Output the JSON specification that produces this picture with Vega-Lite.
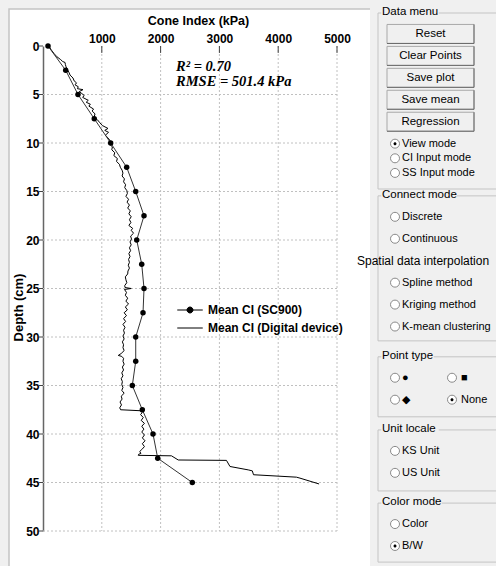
{
  "$schema": "https://vega.github.io/schema/vega-lite/v6.json",
  "width": 294,
  "height": 485,
  "autosize": "none",
  "padding": {"left": 43, "top": 46, "right": 159, "bottom": 35},
  "background": "white",
  "config": {"view": {"stroke": null}, "font": "Liberation Sans"},
  "datasets": {
    "ci": [
      {"series": "Mean CI (SC900)", "depth": 0, "ci": 85},
      {"series": "Mean CI (SC900)", "depth": 2.5, "ci": 386},
      {"series": "Mean CI (SC900)", "depth": 5, "ci": 595},
      {"series": "Mean CI (SC900)", "depth": 7.5, "ci": 872},
      {"series": "Mean CI (SC900)", "depth": 10, "ci": 1151},
      {"series": "Mean CI (SC900)", "depth": 12.5, "ci": 1423},
      {"series": "Mean CI (SC900)", "depth": 15, "ci": 1577},
      {"series": "Mean CI (SC900)", "depth": 17.5, "ci": 1718},
      {"series": "Mean CI (SC900)", "depth": 20, "ci": 1594},
      {"series": "Mean CI (SC900)", "depth": 22.5, "ci": 1679},
      {"series": "Mean CI (SC900)", "depth": 25, "ci": 1718},
      {"series": "Mean CI (SC900)", "depth": 27.5, "ci": 1701},
      {"series": "Mean CI (SC900)", "depth": 30, "ci": 1577},
      {"series": "Mean CI (SC900)", "depth": 32.5, "ci": 1577},
      {"series": "Mean CI (SC900)", "depth": 35, "ci": 1519},
      {"series": "Mean CI (SC900)", "depth": 37.5, "ci": 1689},
      {"series": "Mean CI (SC900)", "depth": 40, "ci": 1871},
      {"series": "Mean CI (SC900)", "depth": 42.5, "ci": 1951},
      {"series": "Mean CI (SC900)", "depth": 45, "ci": 2539},
      {"series": "Mean CI (Digital device)", "depth": 0.0, "ci": 100},
      {"series": "Mean CI (Digital device)", "depth": 0.4, "ci": 140},
      {"series": "Mean CI (Digital device)", "depth": 0.8, "ci": 190},
      {"series": "Mean CI (Digital device)", "depth": 1.1, "ci": 235},
      {"series": "Mean CI (Digital device)", "depth": 1.4, "ci": 300},
      {"series": "Mean CI (Digital device)", "depth": 1.6, "ci": 335},
      {"series": "Mean CI (Digital device)", "depth": 1.7, "ci": 375},
      {"series": "Mean CI (Digital device)", "depth": 1.9, "ci": 380},
      {"series": "Mean CI (Digital device)", "depth": 2.1, "ci": 390},
      {"series": "Mean CI (Digital device)", "depth": 2.4, "ci": 410},
      {"series": "Mean CI (Digital device)", "depth": 2.7, "ci": 440},
      {"series": "Mean CI (Digital device)", "depth": 3.0, "ci": 460},
      {"series": "Mean CI (Digital device)", "depth": 3.3, "ci": 510},
      {"series": "Mean CI (Digital device)", "depth": 3.6, "ci": 530},
      {"series": "Mean CI (Digital device)", "depth": 3.8, "ci": 570},
      {"series": "Mean CI (Digital device)", "depth": 4.0, "ci": 545},
      {"series": "Mean CI (Digital device)", "depth": 4.2, "ci": 600},
      {"series": "Mean CI (Digital device)", "depth": 4.4, "ci": 585},
      {"series": "Mean CI (Digital device)", "depth": 4.5, "ci": 680},
      {"series": "Mean CI (Digital device)", "depth": 4.7, "ci": 615},
      {"series": "Mean CI (Digital device)", "depth": 4.9, "ci": 660},
      {"series": "Mean CI (Digital device)", "depth": 5.1, "ci": 700},
      {"series": "Mean CI (Digital device)", "depth": 5.3, "ci": 675},
      {"series": "Mean CI (Digital device)", "depth": 5.6, "ci": 770},
      {"series": "Mean CI (Digital device)", "depth": 5.8, "ci": 735},
      {"series": "Mean CI (Digital device)", "depth": 6.0, "ci": 805},
      {"series": "Mean CI (Digital device)", "depth": 6.2, "ci": 780},
      {"series": "Mean CI (Digital device)", "depth": 6.5, "ci": 860},
      {"series": "Mean CI (Digital device)", "depth": 6.7, "ci": 835},
      {"series": "Mean CI (Digital device)", "depth": 7.0, "ci": 885},
      {"series": "Mean CI (Digital device)", "depth": 7.3, "ci": 870},
      {"series": "Mean CI (Digital device)", "depth": 7.6, "ci": 925},
      {"series": "Mean CI (Digital device)", "depth": 7.9, "ci": 965},
      {"series": "Mean CI (Digital device)", "depth": 8.2, "ci": 1010},
      {"series": "Mean CI (Digital device)", "depth": 8.5, "ci": 1105},
      {"series": "Mean CI (Digital device)", "depth": 8.7, "ci": 1050},
      {"series": "Mean CI (Digital device)", "depth": 8.9, "ci": 1115},
      {"series": "Mean CI (Digital device)", "depth": 9.2, "ci": 1060},
      {"series": "Mean CI (Digital device)", "depth": 9.5, "ci": 1110},
      {"series": "Mean CI (Digital device)", "depth": 9.8, "ci": 1145},
      {"series": "Mean CI (Digital device)", "depth": 10.1, "ci": 1130},
      {"series": "Mean CI (Digital device)", "depth": 10.4, "ci": 1180},
      {"series": "Mean CI (Digital device)", "depth": 10.7, "ci": 1170},
      {"series": "Mean CI (Digital device)", "depth": 11.0, "ci": 1220},
      {"series": "Mean CI (Digital device)", "depth": 11.3, "ci": 1205},
      {"series": "Mean CI (Digital device)", "depth": 11.6, "ci": 1265},
      {"series": "Mean CI (Digital device)", "depth": 11.9, "ci": 1250},
      {"series": "Mean CI (Digital device)", "depth": 12.2, "ci": 1300},
      {"series": "Mean CI (Digital device)", "depth": 12.5, "ci": 1315},
      {"series": "Mean CI (Digital device)", "depth": 12.8, "ci": 1345},
      {"series": "Mean CI (Digital device)", "depth": 13.1, "ci": 1360},
      {"series": "Mean CI (Digital device)", "depth": 13.4, "ci": 1345},
      {"series": "Mean CI (Digital device)", "depth": 13.7, "ci": 1385},
      {"series": "Mean CI (Digital device)", "depth": 14.0, "ci": 1370},
      {"series": "Mean CI (Digital device)", "depth": 14.3, "ci": 1405},
      {"series": "Mean CI (Digital device)", "depth": 14.6, "ci": 1390},
      {"series": "Mean CI (Digital device)", "depth": 14.9, "ci": 1425},
      {"series": "Mean CI (Digital device)", "depth": 15.2, "ci": 1435},
      {"series": "Mean CI (Digital device)", "depth": 15.5, "ci": 1410},
      {"series": "Mean CI (Digital device)", "depth": 15.8, "ci": 1455},
      {"series": "Mean CI (Digital device)", "depth": 16.1, "ci": 1430},
      {"series": "Mean CI (Digital device)", "depth": 16.4, "ci": 1470},
      {"series": "Mean CI (Digital device)", "depth": 16.7, "ci": 1440},
      {"series": "Mean CI (Digital device)", "depth": 17.0, "ci": 1485},
      {"series": "Mean CI (Digital device)", "depth": 17.3, "ci": 1460},
      {"series": "Mean CI (Digital device)", "depth": 17.6, "ci": 1500},
      {"series": "Mean CI (Digital device)", "depth": 17.9, "ci": 1470},
      {"series": "Mean CI (Digital device)", "depth": 18.2, "ci": 1495},
      {"series": "Mean CI (Digital device)", "depth": 18.5, "ci": 1460},
      {"series": "Mean CI (Digital device)", "depth": 18.8, "ci": 1525},
      {"series": "Mean CI (Digital device)", "depth": 19.0, "ci": 1500},
      {"series": "Mean CI (Digital device)", "depth": 19.3, "ci": 1540},
      {"series": "Mean CI (Digital device)", "depth": 19.6, "ci": 1490},
      {"series": "Mean CI (Digital device)", "depth": 19.9, "ci": 1505},
      {"series": "Mean CI (Digital device)", "depth": 20.2, "ci": 1480},
      {"series": "Mean CI (Digital device)", "depth": 20.5, "ci": 1500},
      {"series": "Mean CI (Digital device)", "depth": 20.8, "ci": 1470},
      {"series": "Mean CI (Digital device)", "depth": 21.1, "ci": 1490},
      {"series": "Mean CI (Digital device)", "depth": 21.4, "ci": 1460},
      {"series": "Mean CI (Digital device)", "depth": 21.7, "ci": 1480},
      {"series": "Mean CI (Digital device)", "depth": 22.0, "ci": 1455},
      {"series": "Mean CI (Digital device)", "depth": 22.3, "ci": 1470},
      {"series": "Mean CI (Digital device)", "depth": 22.6, "ci": 1450},
      {"series": "Mean CI (Digital device)", "depth": 22.9, "ci": 1470},
      {"series": "Mean CI (Digital device)", "depth": 23.2, "ci": 1445},
      {"series": "Mean CI (Digital device)", "depth": 23.5, "ci": 1440},
      {"series": "Mean CI (Digital device)", "depth": 23.8, "ci": 1400},
      {"series": "Mean CI (Digital device)", "depth": 24.1, "ci": 1410},
      {"series": "Mean CI (Digital device)", "depth": 24.4, "ci": 1425},
      {"series": "Mean CI (Digital device)", "depth": 24.7, "ci": 1390},
      {"series": "Mean CI (Digital device)", "depth": 24.9, "ci": 1395},
      {"series": "Mean CI (Digital device)", "depth": 25.0, "ci": 1500},
      {"series": "Mean CI (Digital device)", "depth": 25.1, "ci": 1385},
      {"series": "Mean CI (Digital device)", "depth": 25.4, "ci": 1420},
      {"series": "Mean CI (Digital device)", "depth": 25.7, "ci": 1400},
      {"series": "Mean CI (Digital device)", "depth": 26.0, "ci": 1440},
      {"series": "Mean CI (Digital device)", "depth": 26.3, "ci": 1410},
      {"series": "Mean CI (Digital device)", "depth": 26.6, "ci": 1455},
      {"series": "Mean CI (Digital device)", "depth": 26.9, "ci": 1400},
      {"series": "Mean CI (Digital device)", "depth": 27.2, "ci": 1435},
      {"series": "Mean CI (Digital device)", "depth": 27.5, "ci": 1380},
      {"series": "Mean CI (Digital device)", "depth": 27.8, "ci": 1420},
      {"series": "Mean CI (Digital device)", "depth": 28.1, "ci": 1370},
      {"series": "Mean CI (Digital device)", "depth": 28.4, "ci": 1405},
      {"series": "Mean CI (Digital device)", "depth": 28.7, "ci": 1360},
      {"series": "Mean CI (Digital device)", "depth": 29.0, "ci": 1395},
      {"series": "Mean CI (Digital device)", "depth": 29.3, "ci": 1370},
      {"series": "Mean CI (Digital device)", "depth": 29.6, "ci": 1385},
      {"series": "Mean CI (Digital device)", "depth": 29.9, "ci": 1360},
      {"series": "Mean CI (Digital device)", "depth": 30.2, "ci": 1380},
      {"series": "Mean CI (Digital device)", "depth": 30.5, "ci": 1350},
      {"series": "Mean CI (Digital device)", "depth": 30.8, "ci": 1370},
      {"series": "Mean CI (Digital device)", "depth": 31.1, "ci": 1360},
      {"series": "Mean CI (Digital device)", "depth": 31.4, "ci": 1380},
      {"series": "Mean CI (Digital device)", "depth": 31.7, "ci": 1330},
      {"series": "Mean CI (Digital device)", "depth": 31.9, "ci": 1280},
      {"series": "Mean CI (Digital device)", "depth": 32.0, "ci": 1340},
      {"series": "Mean CI (Digital device)", "depth": 32.2, "ci": 1370},
      {"series": "Mean CI (Digital device)", "depth": 32.5, "ci": 1360},
      {"series": "Mean CI (Digital device)", "depth": 32.8, "ci": 1380},
      {"series": "Mean CI (Digital device)", "depth": 33.1, "ci": 1350},
      {"series": "Mean CI (Digital device)", "depth": 33.4, "ci": 1370},
      {"series": "Mean CI (Digital device)", "depth": 33.7, "ci": 1340},
      {"series": "Mean CI (Digital device)", "depth": 34.0, "ci": 1360},
      {"series": "Mean CI (Digital device)", "depth": 34.3, "ci": 1330},
      {"series": "Mean CI (Digital device)", "depth": 34.6, "ci": 1350},
      {"series": "Mean CI (Digital device)", "depth": 34.9, "ci": 1340},
      {"series": "Mean CI (Digital device)", "depth": 35.2, "ci": 1360},
      {"series": "Mean CI (Digital device)", "depth": 35.5, "ci": 1340},
      {"series": "Mean CI (Digital device)", "depth": 35.8, "ci": 1380},
      {"series": "Mean CI (Digital device)", "depth": 36.1, "ci": 1330},
      {"series": "Mean CI (Digital device)", "depth": 36.4, "ci": 1345},
      {"series": "Mean CI (Digital device)", "depth": 36.7, "ci": 1310},
      {"series": "Mean CI (Digital device)", "depth": 37.0, "ci": 1335},
      {"series": "Mean CI (Digital device)", "depth": 37.3, "ci": 1305},
      {"series": "Mean CI (Digital device)", "depth": 37.5, "ci": 1320},
      {"series": "Mean CI (Digital device)", "depth": 37.6, "ci": 1655},
      {"series": "Mean CI (Digital device)", "depth": 37.8, "ci": 1685},
      {"series": "Mean CI (Digital device)", "depth": 38.0, "ci": 1660},
      {"series": "Mean CI (Digital device)", "depth": 38.3, "ci": 1705},
      {"series": "Mean CI (Digital device)", "depth": 38.6, "ci": 1670},
      {"series": "Mean CI (Digital device)", "depth": 38.9, "ci": 1725},
      {"series": "Mean CI (Digital device)", "depth": 39.2, "ci": 1680},
      {"series": "Mean CI (Digital device)", "depth": 39.5, "ci": 1715},
      {"series": "Mean CI (Digital device)", "depth": 39.8, "ci": 1680},
      {"series": "Mean CI (Digital device)", "depth": 40.1, "ci": 1725},
      {"series": "Mean CI (Digital device)", "depth": 40.4, "ci": 1690},
      {"series": "Mean CI (Digital device)", "depth": 40.7, "ci": 1735},
      {"series": "Mean CI (Digital device)", "depth": 41.0, "ci": 1690},
      {"series": "Mean CI (Digital device)", "depth": 41.3, "ci": 1725},
      {"series": "Mean CI (Digital device)", "depth": 41.6, "ci": 1680},
      {"series": "Mean CI (Digital device)", "depth": 41.8, "ci": 1645},
      {"series": "Mean CI (Digital device)", "depth": 42.0, "ci": 1665},
      {"series": "Mean CI (Digital device)", "depth": 42.1, "ci": 1625},
      {"series": "Mean CI (Digital device)", "depth": 42.2, "ci": 1620},
      {"series": "Mean CI (Digital device)", "depth": 42.25, "ci": 2185},
      {"series": "Mean CI (Digital device)", "depth": 42.68, "ci": 2300},
      {"series": "Mean CI (Digital device)", "depth": 42.72, "ci": 3120},
      {"series": "Mean CI (Digital device)", "depth": 43.35, "ci": 3180},
      {"series": "Mean CI (Digital device)", "depth": 43.7, "ci": 3490},
      {"series": "Mean CI (Digital device)", "depth": 43.8, "ci": 3560},
      {"series": "Mean CI (Digital device)", "depth": 44.2, "ci": 3580},
      {"series": "Mean CI (Digital device)", "depth": 44.45, "ci": 4310},
      {"series": "Mean CI (Digital device)", "depth": 44.55, "ci": 4370},
      {"series": "Mean CI (Digital device)", "depth": 45.15, "ci": 4695}
    ],
    "grid": [
      {"g": "v1000", "ci": 1000, "depth": 0}, {"g": "v1000", "ci": 1000, "depth": 50},
      {"g": "v2000", "ci": 2000, "depth": 0}, {"g": "v2000", "ci": 2000, "depth": 50},
      {"g": "v3000", "ci": 3000, "depth": 0}, {"g": "v3000", "ci": 3000, "depth": 50},
      {"g": "v4000", "ci": 4000, "depth": 0}, {"g": "v4000", "ci": 4000, "depth": 50},
      {"g": "v5000", "ci": 5000, "depth": 0}, {"g": "v5000", "ci": 5000, "depth": 50},
      {"g": "h5", "ci": 0, "depth": 5}, {"g": "h5", "ci": 5000, "depth": 5},
      {"g": "h10", "ci": 0, "depth": 10}, {"g": "h10", "ci": 5000, "depth": 10},
      {"g": "h15", "ci": 0, "depth": 15}, {"g": "h15", "ci": 5000, "depth": 15},
      {"g": "h20", "ci": 0, "depth": 20}, {"g": "h20", "ci": 5000, "depth": 20},
      {"g": "h25", "ci": 0, "depth": 25}, {"g": "h25", "ci": 5000, "depth": 25},
      {"g": "h30", "ci": 0, "depth": 30}, {"g": "h30", "ci": 5000, "depth": 30},
      {"g": "h35", "ci": 0, "depth": 35}, {"g": "h35", "ci": 5000, "depth": 35},
      {"g": "h40", "ci": 0, "depth": 40}, {"g": "h40", "ci": 5000, "depth": 40},
      {"g": "h45", "ci": 0, "depth": 45}, {"g": "h45", "ci": 5000, "depth": 45},
      {"g": "h50", "ci": 0, "depth": 50}, {"g": "h50", "ci": 5000, "depth": 50}
    ],
    "ticks": [
      {"g": "tx1000", "ci": 1000, "depth": 0}, {"g": "tx1000", "ci": 1000, "depth": 0.72},
      {"g": "tx2000", "ci": 2000, "depth": 0}, {"g": "tx2000", "ci": 2000, "depth": 0.72},
      {"g": "tx3000", "ci": 3000, "depth": 0}, {"g": "tx3000", "ci": 3000, "depth": 0.72},
      {"g": "tx4000", "ci": 4000, "depth": 0}, {"g": "tx4000", "ci": 4000, "depth": 0.72},
      {"g": "tx5000", "ci": 5000, "depth": 0}, {"g": "tx5000", "ci": 5000, "depth": 0.72},
      {"g": "ty0", "ci": -70, "depth": 0}, {"g": "ty0", "ci": 0, "depth": 0},
      {"g": "ty5", "ci": -70, "depth": 5}, {"g": "ty5", "ci": 0, "depth": 5},
      {"g": "ty10", "ci": -70, "depth": 10}, {"g": "ty10", "ci": 0, "depth": 10},
      {"g": "ty15", "ci": -70, "depth": 15}, {"g": "ty15", "ci": 0, "depth": 15},
      {"g": "ty20", "ci": -70, "depth": 20}, {"g": "ty20", "ci": 0, "depth": 20},
      {"g": "ty25", "ci": -70, "depth": 25}, {"g": "ty25", "ci": 0, "depth": 25},
      {"g": "ty30", "ci": -70, "depth": 30}, {"g": "ty30", "ci": 0, "depth": 30},
      {"g": "ty35", "ci": -70, "depth": 35}, {"g": "ty35", "ci": 0, "depth": 35},
      {"g": "ty40", "ci": -70, "depth": 40}, {"g": "ty40", "ci": 0, "depth": 40},
      {"g": "ty45", "ci": -70, "depth": 45}, {"g": "ty45", "ci": 0, "depth": 45},
      {"g": "ty50", "ci": -70, "depth": 50}, {"g": "ty50", "ci": 0, "depth": 50}
    ],
    "notes": [
      {"note": "R² = 0.70", "ci": 2262, "depth": 2.6},
      {"note": "RMSE = 501.4 kPa", "ci": 2262, "depth": 4.1}
    ],
    "panel": [
      {"line": "Data menu", "kind": "header", "text": "Data menu", "on": false},
      {"line": "Reset", "kind": "button", "text": "Reset", "on": false},
      {"line": "Clear Points", "kind": "button", "text": "Clear Points", "on": false},
      {"line": "Save plot", "kind": "button", "text": "Save plot", "on": false},
      {"line": "Save mean", "kind": "button", "text": "Save mean", "on": false},
      {"line": "Regression", "kind": "button", "text": "Regression", "on": false},
      {"line": "View mode", "kind": "option", "text": "View mode", "on": true},
      {"line": "CI Input mode", "kind": "option", "text": "CI Input mode", "on": false},
      {"line": "SS Input mode", "kind": "option", "text": "SS Input mode", "on": false},
      {"line": "Connect mode", "kind": "header", "text": "Connect mode", "on": false},
      {"line": "Discrete", "kind": "option", "text": "Discrete", "on": false},
      {"line": "Continuous", "kind": "option", "text": "Continuous", "on": false},
      {"line": "Spatial data interpolation", "kind": "note", "text": "Spatial data interpolation", "on": false},
      {"line": "Spline method", "kind": "option", "text": "Spline method", "on": false},
      {"line": "Kriging method", "kind": "option", "text": "Kriging method", "on": false},
      {"line": "K-mean clustering", "kind": "option", "text": "K-mean clustering", "on": false},
      {"line": "Point type", "kind": "header", "text": "Point type", "on": false},
      {"line": "pt1", "kind": "option", "text": "●", "on": false},
      {"line": "pt1", "kind": "option2", "text": "■", "on": false},
      {"line": "pt2", "kind": "option", "text": "◆", "on": false},
      {"line": "pt2", "kind": "option2", "text": "None", "on": true},
      {"line": "Unit locale", "kind": "header", "text": "Unit locale", "on": false},
      {"line": "KS Unit", "kind": "option", "text": "KS Unit", "on": false},
      {"line": "US Unit", "kind": "option", "text": "US Unit", "on": false},
      {"line": "Color mode", "kind": "header", "text": "Color mode", "on": false},
      {"line": "Color", "kind": "option", "text": "Color", "on": false},
      {"line": "B/W", "kind": "option", "text": "B/W", "on": true}
    ],
    "frames": [
      {"frame": "window", "line": "Data menu", "kind": "header"},
      {"frame": "Data menu", "line": "Data menu", "kind": "header"},
      {"frame": "Connect mode", "line": "Connect mode", "kind": "header"},
      {"frame": "Point type", "line": "Point type", "kind": "header"},
      {"frame": "Unit locale", "line": "Unit locale", "kind": "header"},
      {"frame": "Color mode", "line": "Color mode", "kind": "header"}
    ]
  },
  "resolve": {"scale": {"x": "independent", "y": "independent", "shape": "independent"}},
  "layer": [
    {
      "encoding": {
        "x": {"field": "kind", "type": "nominal", "axis": null,
          "scale": {"type": "point", "domain": ["note", "header", "option", "button", "option2"], "range": [314, 409], "padding": 0}},
        "y": {"field": "line", "type": "nominal", "axis": null,
          "scale": {"type": "band", "paddingInner": 0, "paddingOuter": 0, "range": [-37.66, 503.65],
            "domain": ["Data menu", "g01", "g02", "Reset", "g03", "g04", "Clear Points", "g05", "g06", "Save plot", "g07", "g08", "Save mean", "g09", "g10", "Regression", "g11", "g12", "View mode", "g13", "CI Input mode", "g14", "SS Input mode", "g15", "g16", "Connect mode", "g17", "g18", "Discrete", "g19", "g20", "Continuous", "g21", "g22", "Spatial data interpolation", "g23", "g24", "Spline method", "g25", "g26", "Kriging method", "g27", "g28", "K-mean clustering", "g29", "g30", "g31", "Point type", "g32", "g33", "pt1", "g34", "g35", "pt2", "g36", "g37", "g38", "Unit locale", "g39", "g40", "KS Unit", "g41", "g42", "US Unit", "g43", "g44", "g45", "Color mode", "g46", "g47", "Color", "g48", "g49", "B/W"]}}
      },
      "resolve": {"scale": {"shape": "independent"}},
      "layer": [
        {
          "data": {"name": "frames"},
          "transform": [{"filter": "datum.frame === 'window'"}],
          "mark": {"type": "point", "size": 4, "opacity": 1, "filled": true, "fill": "#f0f0f0", "strokeWidth": 0,
            "shape": "M-380.75,-12H115.25V554H-10.75V-3H-371.75V554H-380.75Z"}
        },
        {
          "data": {"name": "frames"},
          "transform": [{"filter": "datum.frame === 'window'"}],
          "mark": {"type": "point", "size": 4, "opacity": 1, "filled": false, "fill": "transparent", "stroke": "#c4c4c4", "strokeWidth": 1.5,
            "shape": "M-10.75,-3H-371.75V560"}
        },
        {
          "data": {"name": "frames"},
          "transform": [{"filter": "datum.frame !== 'window'"}],
          "mark": {"type": "point", "size": 4, "opacity": 1, "filled": false, "fill": "transparent", "stroke": "#c4c4c4", "strokeWidth": 1},
          "encoding": {
            "shape": {"field": "frame", "type": "nominal", "legend": null,
              "scale": {"domain": ["Data menu", "Connect mode", "Point type", "Unit locale", "Color mode"],
                "range": ["M0.5,1H-2.75V177H120M58,1H120", "M0.5,1H-2.75V146H120M76,1H120", "M0.5,1H-2.75V61H120M53,1H120", "M0.5,1H-2.75V62H120M58,1H120", "M0.5,1H-2.75V60H120M61,1H120"]}}
          }
        },
        {
          "data": {"name": "panel"},
          "transform": [{"filter": "datum.kind === 'button'"}],
          "mark": {"type": "point", "size": 4, "opacity": 1, "filled": true, "fill": "#f0f0f0", "stroke": "#a8a8a8", "strokeWidth": 1,
            "shape": "M-41.25,-9.5H45.75V9.5H-41.25Z"}
        },
        {
          "data": {"name": "panel"},
          "transform": [{"filter": "datum.kind === 'button'"}],
          "mark": {"type": "point", "size": 4, "opacity": 1, "filled": false, "fill": "transparent", "stroke": "#6a6a6a", "strokeWidth": 1,
            "shape": "M-41.25,9.5H45.75V-9.5"}
        },
        {
          "data": {"name": "panel"},
          "transform": [{"filter": "datum.kind === 'button'"}],
          "mark": {"type": "text", "align": "center", "baseline": "middle", "dx": 2.25, "fontSize": 11.5, "color": "#000"},
          "encoding": {"text": {"field": "text"}}
        },
        {
          "data": {"name": "panel"},
          "transform": [{"filter": "datum.kind === 'header'"}],
          "mark": {"type": "text", "align": "left", "baseline": "middle", "dx": 1.25, "fontSize": 11.5, "color": "#000"},
          "encoding": {"text": {"field": "text"}}
        },
        {
          "data": {"name": "panel"},
          "transform": [{"filter": "datum.kind === 'note'"}],
          "mark": {"type": "text", "align": "left", "baseline": "middle", "dx": 0, "fontSize": 12, "color": "#000"},
          "encoding": {"text": {"field": "text"}}
        },
        {
          "data": {"name": "panel"},
          "transform": [{"filter": "datum.kind === 'option' || datum.kind === 'option2'"}],
          "mark": {"type": "point", "size": 4, "opacity": 1, "filled": true, "fill": "white", "stroke": "#8a8a8a", "strokeWidth": 1},
          "encoding": {
            "shape": {"field": "kind", "type": "nominal", "legend": null,
              "scale": {"domain": ["option", "option2"], "range": ["M-5,0A4.5,4.5,0,1,1,-14,0A4.5,4.5,0,1,1,-5,0Z", "M4.5,0A4.5,4.5,0,1,1,-4.5,0A4.5,4.5,0,1,1,4.5,0Z"]}}
          }
        },
        {
          "data": {"name": "panel"},
          "transform": [{"filter": "datum.on"}],
          "mark": {"type": "point", "size": 4, "opacity": 1, "filled": true, "fill": "#000", "strokeWidth": 0},
          "encoding": {
            "shape": {"field": "kind", "type": "nominal", "legend": null,
              "scale": {"domain": ["option", "option2"], "range": ["M-8,0A1.5,1.5,0,1,1,-11,0A1.5,1.5,0,1,1,-8,0Z", "M1.5,0A1.5,1.5,0,1,1,-1.5,0A1.5,1.5,0,1,1,1.5,0Z"]}}
          }
        },
        {
          "data": {"name": "panel"},
          "transform": [{"filter": "datum.kind === 'option'"}],
          "mark": {"type": "text", "align": "left", "baseline": "middle", "dx": -2.5, "fontSize": 11, "color": "#000"},
          "encoding": {"text": {"field": "text"}}
        },
        {
          "data": {"name": "panel"},
          "transform": [{"filter": "datum.kind === 'option2'"}],
          "mark": {"type": "text", "align": "left", "baseline": "middle", "dx": 9, "fontSize": 11, "color": "#000"},
          "encoding": {"text": {"field": "text"}}
        }
      ]
    },
    {
      "encoding": {
        "x": {"field": "ci", "type": "quantitative",
          "scale": {"domain": [0, 5000], "nice": false, "zero": true},
          "axis": {"orient": "top", "title": "Cone Index (kPa)", "values": [1000, 2000, 3000, 4000, 5000], "format": "d",
            "domain": false, "ticks": false, "labelPadding": 1,
            "labelFontSize": 12, "labelFontWeight": "bold", "labelColor": "#000", "labelFlush": false, "labelOverlap": false,
            "titleFontSize": 12.5, "titleFontWeight": "bold", "titleColor": "#000", "titleX": 155, "titleY": -22,
            "titleBaseline": "alphabetic", "titleAlign": "center", "grid": false}},
        "y": {"field": "depth", "type": "quantitative",
          "scale": {"domain": [0, 50], "nice": false, "reverse": true},
          "axis": {"title": "Depth (cm)", "values": [0, 5, 10, 15, 20, 25, 30, 35, 40, 45, 50],
            "domainColor": "#666", "domainWidth": 1.5, "ticks": false, "labelPadding": 4,
            "labelFontSize": 12, "labelFontWeight": "bold", "labelColor": "#000", "labelFlush": false, "labelOverlap": false,
            "titleFontSize": 13, "titleFontWeight": "bold", "titleColor": "#000", "titleX": -25, "titleY": 261,
            "titleBaseline": "middle", "titleAlign": "center", "titleAngle": -90, "grid": false}}
      },
      "layer": [
        {
          "data": {"name": "grid"},
          "mark": {"type": "line", "color": "#c0c0c0", "strokeWidth": 1, "strokeDash": [2, 2]},
          "encoding": {"detail": {"field": "g", "type": "nominal"}}
        },
        {
          "data": {"name": "ticks"},
          "mark": {"type": "line", "color": "#444", "strokeWidth": 1},
          "encoding": {"detail": {"field": "g", "type": "nominal"}}
        },
        {
          "data": {"name": "ci"},
          "transform": [{"filter": "datum.series === 'Mean CI (Digital device)'"}],
          "mark": {"type": "line", "color": "#000", "strokeWidth": 1},
          "encoding": {"order": {"field": "depth", "type": "quantitative"}}
        },
        {
          "data": {"name": "ci"},
          "transform": [{"filter": "datum.series === 'Mean CI (SC900)'"}],
          "mark": {"type": "line", "color": "#333", "strokeWidth": 1},
          "encoding": {"order": {"field": "depth", "type": "quantitative"}}
        },
        {
          "data": {"name": "ci"},
          "transform": [{"filter": "datum.series === 'Mean CI (SC900)'"}],
          "mark": {"type": "point", "shape": "circle", "filled": true, "color": "#000", "size": 30, "opacity": 1}
        },
        {
          "data": {"name": "ci"},
          "mark": {"type": "point", "filled": false, "color": "#000", "fill": "#000", "stroke": "#000", "strokeWidth": 1, "size": 289, "opacity": 0},
          "encoding": {
            "shape": {"field": "series", "type": "nominal",
              "scale": {"domain": ["Mean CI (SC900)", "Mean CI (Digital device)"],
                "range": ["M-1.5,0H1.5M0.35,0A0.35,0.35,0,1,1,-0.35,0A0.35,0.35,0,1,1,0.35,0Z", "M-1.5,0H1.5"]},
              "legend": {"title": null, "orient": "none", "legendX": 138, "legendY": 255, "padding": 0,
                "symbolSize": 289, "symbolStrokeWidth": 1,
                "rowPadding": 3, "labelOffset": 9, "labelFontSize": 12, "labelFontWeight": "bold", "labelColor": "#000", "labelLimit": 0}}
          }
        },
        {
          "data": {"name": "notes"},
          "mark": {"type": "text", "align": "left", "baseline": "alphabetic", "font": "Liberation Serif", "fontSize": 14.5,
            "fontWeight": "bold", "fontStyle": "italic", "color": "#000"},
          "encoding": {"text": {"field": "note"}}
        }
      ]
    }
  ]
}
